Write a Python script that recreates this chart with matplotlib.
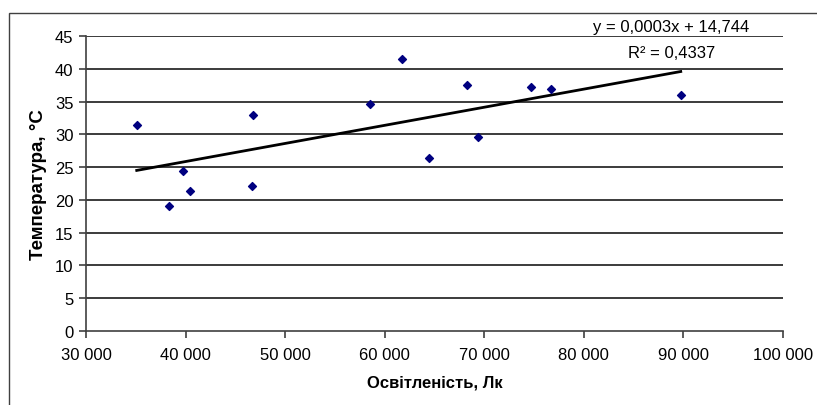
import numpy as np
import matplotlib
matplotlib.use("Agg")
import matplotlib.pyplot as plt
from matplotlib.patches import Rectangle
from matplotlib.ticker import FuncFormatter

# Data
illuminance = [35095, 38340, 39750, 40450, 46650, 46780, 58570, 61690,
               64470, 68260, 69330, 74650, 76660, 89730]
temperature = [31.5, 19.0, 24.4, 21.4, 22.1, 32.9, 34.7, 41.5,
               26.4, 37.5, 29.6, 37.2, 37.0, 36.1]
x_ticks = [30000, 40000, 50000, 60000, 70000, 80000, 90000, 100000]
y_ticks = [0, 5, 10, 15, 20, 25, 30, 35, 40, 45]
eq_text = "y = 0,0003x + 14,744"
r2_text = "R² = 0,4337"
x_label = "Освітленість, Лк"
y_label = "Температура, °C"

plt.rcParams['font.family'] = ['Liberation Sans', 'DejaVu Sans']

W, H = 817, 406
fig = plt.figure(figsize=(W / 100, H / 100), dpi=100)
fig.patch.set_facecolor('white')

# outer chart frame
fig.patches.append(Rectangle((9 / W, -0.1), 1.2, 1 - 14 / H + 0.1,
                             transform=fig.transFigure, fill=False,
                             edgecolor='#404040', linewidth=1.0))

left, right = 86 / W, 783 / W
top, bottom = 1 - 37.3 / H, 1 - 331.7 / H
ax = fig.add_axes([left, bottom, right - left, top - bottom])

ax.set_xlim(x_ticks[0], x_ticks[-1])
ax.set_ylim(y_ticks[0], y_ticks[-1])
ax.set_xticks(x_ticks)
ax.set_yticks(y_ticks)
ax.xaxis.set_major_formatter(FuncFormatter(lambda v, p: f"{int(v):,}".replace(",", " ")))

for y in y_ticks[1:]:
    ax.axhline(y, color='#1a1a1a', linewidth=1.2, zorder=1)

ax.spines['top'].set_visible(False)
ax.spines['right'].set_visible(False)
ax.spines['left'].set_color('#404040')
ax.spines['bottom'].set_color('#404040')
ax.spines['left'].set_linewidth(1.2)
ax.spines['bottom'].set_linewidth(1.2)
ax.tick_params(axis='both', direction='out', length=5, width=1.2,
               color='#404040', labelsize=12, labelcolor='black')
ax.tick_params(axis='x', pad=7)
ax.tick_params(axis='y', pad=4)

ax.scatter(illuminance, temperature, marker='D', s=16, color='#000080',
           edgecolors='#000080', zorder=3)

# linear trend line
k, b = np.polyfit(illuminance, temperature, 1)
xs = np.array([min(illuminance), max(illuminance)])
ax.plot(xs, k * xs + b, color='black', linewidth=2.0, zorder=2)

ax.set_xlabel(x_label, fontsize=12, fontweight='bold', labelpad=9)
ax.set_ylabel(y_label, fontsize=13.5, fontweight='bold', labelpad=6)

fig.text(671 / W, 1 - 27.5 / H, eq_text, ha='center', va='center', fontsize=12)
fig.text(672 / W, 1 - 53 / H, r2_text, ha='center', va='center', fontsize=12)

fig.savefig('out.png', dpi=100)
